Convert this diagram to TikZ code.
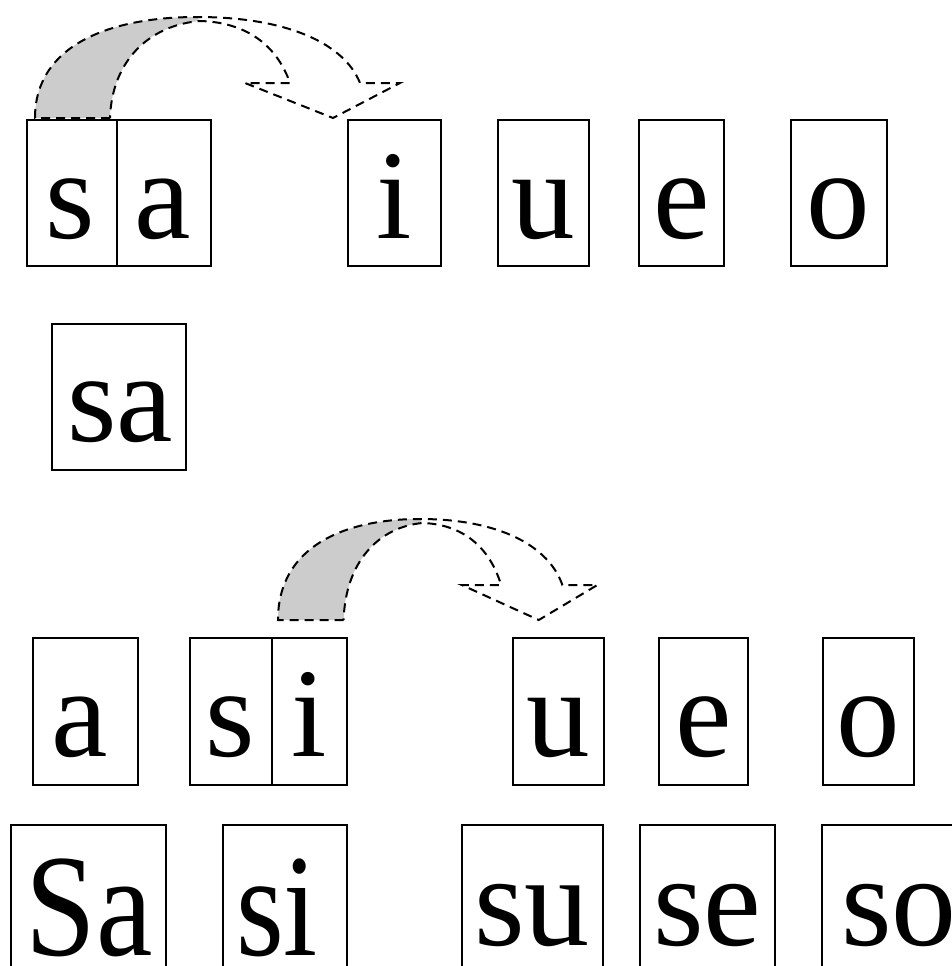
\documentclass[tikz,border=0pt]{standalone}
\usepackage{fontspec}
\setmainfont{Liberation Serif}
\definecolor{bandgray}{RGB}{204,204,204}
\tikzset{
  cell/.style={draw, line width=2pt, inner sep=0pt, minimum width=#1},
  glyph/.style={anchor=base, inner sep=0pt, font=\fontsize{127pt}{127pt}\selectfont},
  glyphbig/.style={anchor=base, inner sep=0pt, font=\fontsize{146pt}{146pt}\selectfont},
  glyphmid/.style={anchor=base, inner sep=0pt, font=\fontsize{130pt}{130pt}\selectfont},
  flow/.style={line width=2pt, dash pattern=on 9pt off 6pt, line join=miter},
  bentarrow/.pic={
    % shaded rear part of the curved band
    \fill[bandgray] (0,0) .. controls (0,-73) and (75,-101) .. (162,-101)
      -- (165,-97) .. controls (115,-93) and (77,-58) .. (75,0) -- cycle;
    % dashed outline of band and head
    \draw[flow] (75,0) -- (0,0) .. controls (0,-73) and (75,-101) .. (162,-101)
      .. controls (255,-101) and (310,-73) .. (325,-35) -- (365,-35) -- (298,0)
      -- (210,-35) -- (255,-35) .. controls (240,-78) and (205,-96) .. (165,-97)
      .. controls (115,-93) and (77,-58) .. (75,0);
  }
}
% box from x1 to x2, y1 to y2 (y grows downward)
\newcommand\cellbox[5]{%
  \node[cell={#4pt-#2pt}, minimum height={#5pt-#3pt}] (#1) at ({(#2+#4)/2},{(#3+#5)/2}) {};}
\begin{document}
\begin{tikzpicture}[x=1pt,y=-1pt]
\useasboundingbox (0,0) rectangle (952,966);
\clip (0,0) rectangle (952,966);

% row 1
\cellbox{r1s}{27}{120}{117}{266}
\cellbox{r1a}{117}{120}{211}{266}
\cellbox{r1i}{348}{120}{441}{266}
\cellbox{r1u}{498}{120}{589}{266}
\cellbox{r1e}{639}{120}{724}{266}
\cellbox{r1o}{791}{120}{887}{266}
\node[glyph] (t1s) at (70,238) {s};
\node[glyph] (t1a) at (163,238) {a};
\node[glyph] (t1i) at (394.5,238) {i};
\node[glyph] (t1u) at (543.5,238) {u};
\node[glyph] (t1e) at (681.5,238) {e};
\node[glyph] (t1o) at (838,238) {o};

% row 2
\cellbox{r2sa}{52}{324}{186}{470}
\node[glyph] (t2sa) at (120,441) {sa};

% row 3
\cellbox{r3a}{33}{638}{138}{785}
\cellbox{r3s}{190}{638}{272}{785}
\cellbox{r3i}{272}{638}{347}{785}
\cellbox{r3u}{513}{638}{604}{785}
\cellbox{r3e}{659}{638}{748}{785}
\cellbox{r3o}{823}{638}{914}{785}
\node[glyph] (t3a) at (80,756) {a};
\node[glyph] (t3s) at (230,756) {s};
\node[glyph] (t3i) at (309.5,756) {i};
\node[glyph] (t3u) at (558.5,756) {u};
\node[glyph] (t3e) at (703.5,756) {e};
\node[glyph] (t3o) at (868.5,756) {o};

% row 4
\cellbox{r4sa}{11}{825}{166}{1000}
\cellbox{r4si}{223}{825}{347}{1000}
\cellbox{r4su}{462}{825}{603}{1000}
\cellbox{r4se}{640}{825}{775}{1000}
\cellbox{r4so}{822}{825}{1000}{1000}
\node[glyphbig] (t4sa) at (89,955) {\scalebox{0.87}[1]{Sa}};
\node[glyphbig] (t4si) at (277,955) {\scalebox{0.84}[1]{si}};
\node[glyphmid] (t4su) at (532,945) {su};
\node[glyphmid] (t4se) at (707.5,945) {se};
\node[glyphmid] (t4so) at (899,945) {so};

% curved move arrows
\pic at (35,118) {bentarrow};
\pic[xscale=0.875] at (278,620) {bentarrow};
\end{tikzpicture}
\end{document}
